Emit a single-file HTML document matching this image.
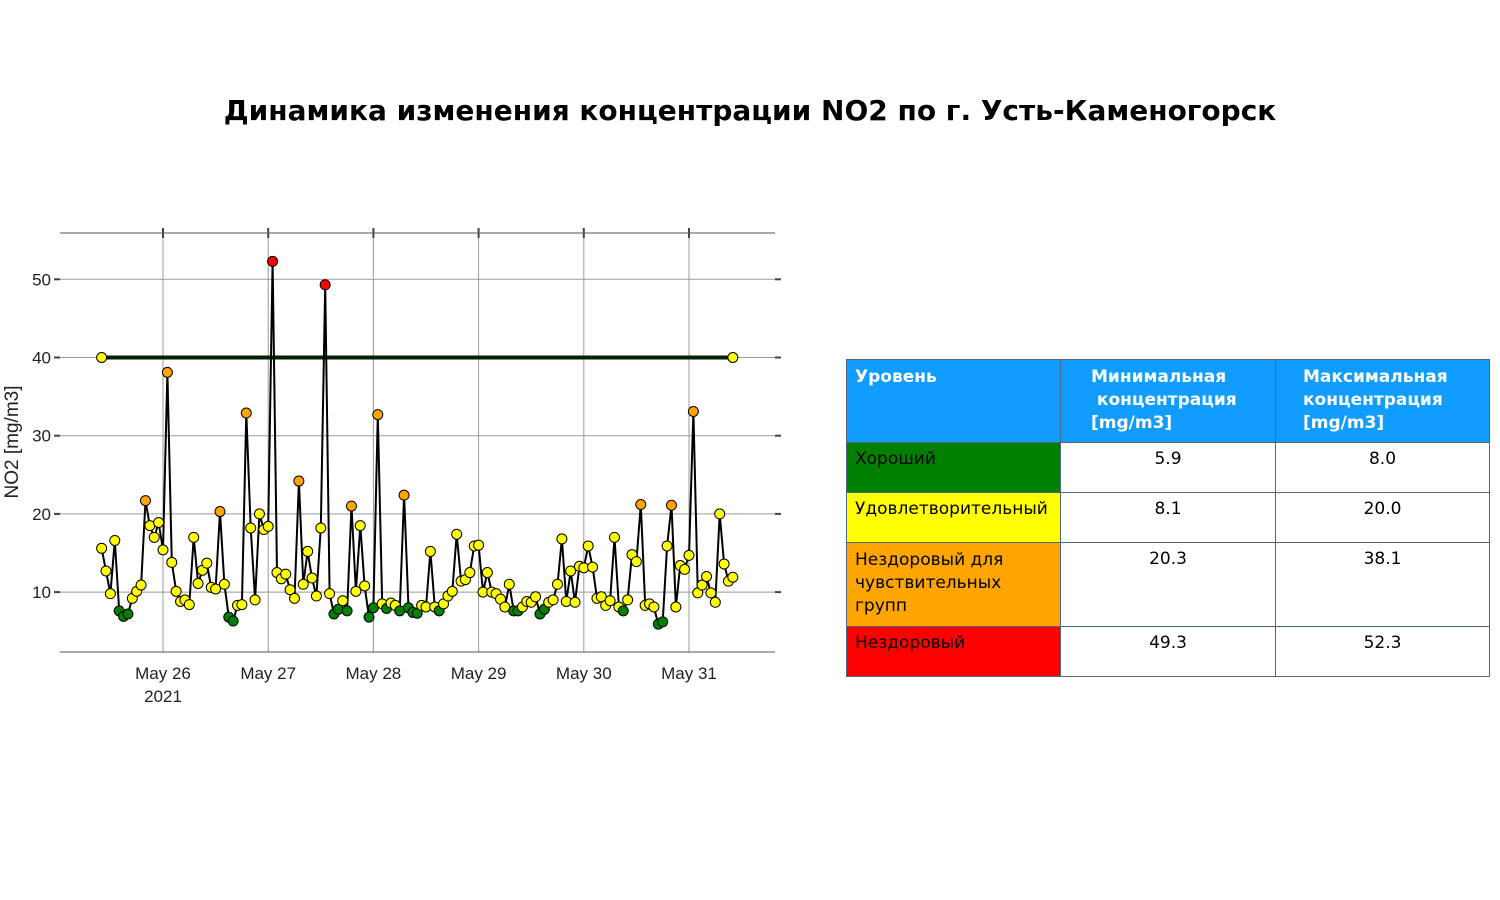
<!DOCTYPE html>
<html><head><meta charset="utf-8"><style>
body{margin:0;background:#fff;font-family:"Liberation Sans","DejaVu Sans",sans-serif;}
#wrap{position:relative;width:1500px;height:900px;overflow:hidden;}
#title{position:absolute;left:0;width:1500px;top:94px;text-align:center;font-weight:bold;font-size:28px;font-family:"DejaVu Sans","Liberation Sans",sans-serif;}
table{position:absolute;left:846px;top:359px;border-collapse:collapse;font-family:"DejaVu Sans","Liberation Sans",sans-serif;font-size:17px;}
td{border:1px solid #506784;vertical-align:top;padding:6px 8px;box-sizing:border-box;}
th{background:#119dff;color:#fff;border:1px solid #506784;text-align:left;vertical-align:top;padding:6px 8px;font-size:17px;height:83px;box-sizing:border-box;line-height:23px;}
td.n{text-align:center;background:#fff;}
</style></head><body>
<div id="wrap">
<div id="title">Динамика изменения концентрации NO2 по г. Усть-Каменогорск</div>
<svg id="chart" width="1500" height="900" style="position:absolute;left:0;top:0"></svg>
<table>
<tr><th style="width:214px">Уровень</th><th style="width:215px;padding-left:30px">Минимальная<br>&nbsp;концентрация<br>[mg/m3]</th><th style="width:214px;padding-left:27px">Максимальная<br>концентрация<br>[mg/m3]</th></tr>
<tr style="height:50px"><td style="background:#008000">Хороший</td><td class="n">5.9</td><td class="n">8.0</td></tr>
<tr style="height:50px"><td style="background:#ffff00">Удовлетворительный</td><td class="n">8.1</td><td class="n">20.0</td></tr>
<tr style="height:84px"><td style="background:#ffa500;line-height:23px">Нездоровый для<br>чувствительных<br>групп</td><td class="n">20.3</td><td class="n">38.1</td></tr>
<tr style="height:50px"><td style="background:#ff0000">Нездоровый</td><td class="n">49.3</td><td class="n">52.3</td></tr>
</table>
</div>
<script>
const values=[15.6,12.7,9.8,16.6,7.6,6.9,7.2,9.2,10.1,10.9,21.7,18.5,17.0,18.9,15.4,38.1,13.8,10.1,8.8,9.0,8.4,17.0,11.1,12.8,13.7,10.6,10.4,20.3,11.0,6.8,6.3,8.3,8.4,32.9,18.2,9.0,20.0,18.0,18.4,52.3,12.5,11.7,12.3,10.3,9.2,24.2,11.0,15.2,11.8,9.5,18.2,49.3,9.8,7.2,7.8,8.9,7.6,21.0,10.1,18.5,10.8,6.8,8.0,32.7,8.5,7.9,8.6,8.3,7.6,22.4,8.0,7.4,7.3,8.3,8.1,15.2,8.1,7.6,8.5,9.5,10.1,17.4,11.4,11.6,12.5,15.9,16.0,10.0,12.5,10.0,9.8,9.1,8.1,11.0,7.6,7.6,8.1,8.8,8.7,9.4,7.2,7.8,8.7,9.0,11.0,16.8,8.8,12.7,8.7,13.3,13.1,15.9,13.2,9.2,9.4,8.3,8.9,17.0,8.1,7.6,9.0,14.8,13.9,21.2,8.3,8.5,8.1,5.9,6.2,15.9,21.1,8.1,13.4,12.9,14.7,33.1,9.9,10.9,12.0,9.9,8.7,20.0,13.6,11.4,11.9];
const startHour=-14; // hours relative to May 26 00:00
const limitValues=[40,40];
const yTicks=[10,20,30,40,50];
const xTickLabels=["May 26","May 27","May 28","May 29","May 30","May 31"];
const svg=document.getElementById('chart');const NS='http://www.w3.org/2000/svg';
const L=60,R=775,T=233,B=652;
function X(h){return 163+h*105.2/24;}
function Y(v){return 670.3-v*7.82;}
function mk(t,a){const e=document.createElementNS(NS,t);for(const k in a)e.setAttribute(k,a[k]);svg.appendChild(e);return e;}
function col(v){return v<=8.0?'#008000':v<=20?'#ffff00':v<=38.1?'#ffa500':'#ff0000';}
yTicks.forEach(v=>{
 const g=mk('line',{x1:L,x2:R,y1:Y(v),y2:Y(v),stroke:'#999','stroke-width':1});
 
 mk('line',{x1:L-6,x2:L,y1:Y(v),y2:Y(v),stroke:'#444','stroke-width':2});
 mk('line',{x1:R,x2:R+6,y1:Y(v),y2:Y(v),stroke:'#444','stroke-width':2});
 const t=mk('text',{x:L-9,y:Y(v)+6,'text-anchor':'end','font-size':17,fill:'#222'});t.textContent=v;
 
});
xTickLabels.forEach((s,i)=>{
 const x=X(i*24);
 const g=mk('line',{x1:x,x2:x,y1:T,y2:B,stroke:'#999','stroke-width':1});
 
 mk('line',{x1:x,x2:x,y1:T-5,y2:T+5,stroke:'#444','stroke-width':2});
 const t=mk('text',{x:x,y:679,'text-anchor':'middle','font-size':17,fill:'#222'});t.textContent=s;
 
});
const yr=mk('text',{x:X(0),y:702,'text-anchor':'middle','font-size':17,fill:'#222'});yr.textContent='2021';

mk('line',{x1:L,x2:R,y1:T,y2:T,stroke:'#555','stroke-width':1});
mk('line',{x1:L,x2:R,y1:B,y2:B,stroke:'#555','stroke-width':1});
const yl=mk('text',{x:0,y:0,transform:'translate(18,442) rotate(-90)','text-anchor':'middle','font-size':19,fill:'#222'});yl.textContent='NO2 [mg/m3]';

// limit line
const lx=[X(startHour),X(startHour+values.length-1)];
const ll=mk('line',{x1:lx[0],x2:lx[1],y1:Y(limitValues[0]),y2:Y(limitValues[1]),stroke:'#002200','stroke-width':4});

limitValues.forEach((v,i)=>{const c=mk('circle',{cx:lx[i],cy:Y(v),r:5,fill:'#ffff00',stroke:'#000','stroke-width':1});
 });
// series
const pts=values.map((v,i)=>X(startHour+i).toFixed(1)+','+Y(v).toFixed(1)).join(' ');
const pl=mk('polyline',{points:pts,fill:'none',stroke:'#000','stroke-width':2});

values.forEach((v,i)=>{const c=mk('circle',{cx:X(startHour+i),cy:Y(v),r:5,fill:col(v),stroke:'#000','stroke-width':1});
 });
</script>
</body></html>
